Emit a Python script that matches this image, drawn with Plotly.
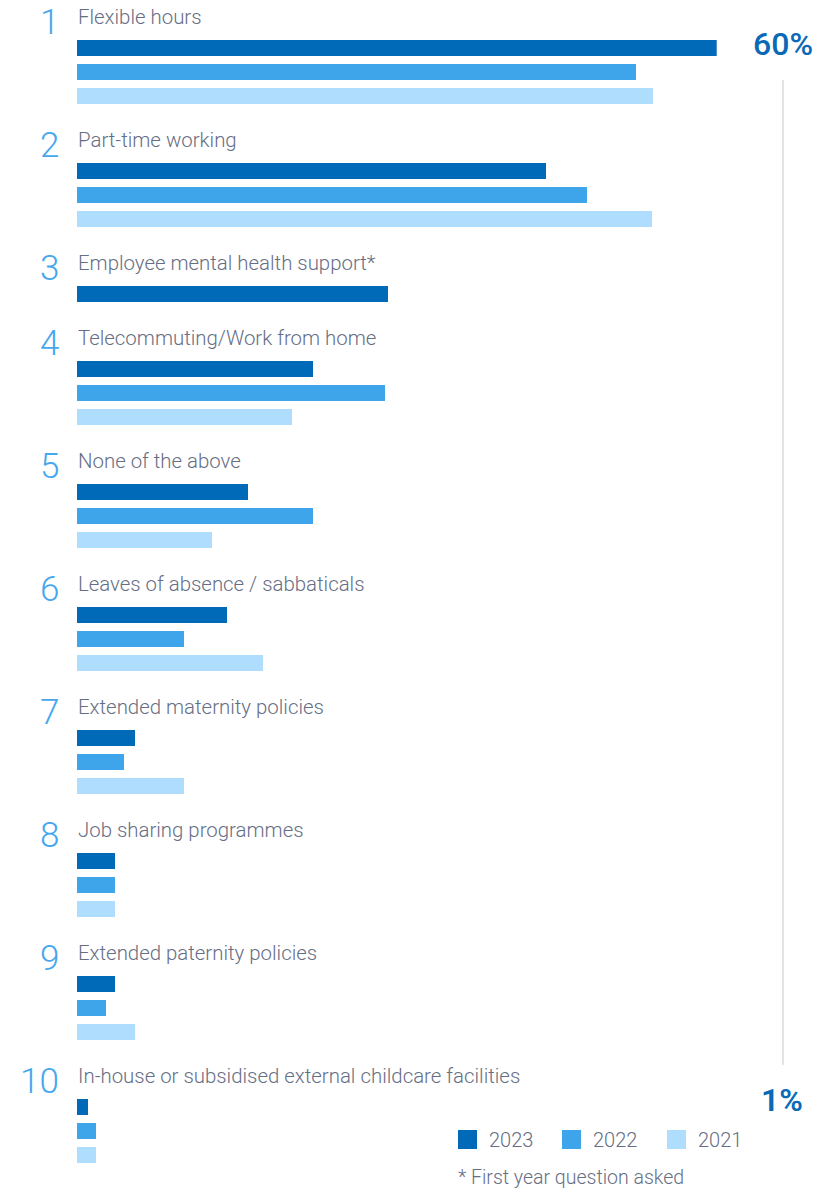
import plotly.graph_objects as go

# Workplace benefits offered, share of respondents (%) by survey year
categories = [
    "Flexible hours",
    "Part-time working",
    "Employee mental health support*",
    "Telecommuting/Work from home",
    "None of the above",
    "Leaves of absence / sabbaticals",
    "Extended maternity policies",
    "Job sharing programmes",
    "Extended paternity policies",
    "In-house or subsidised external childcare facilities",
]
years = ["2023", "2022", "2021"]
values_2023 = [60, 44, 29.2, 22.1, 16, 14.1, 5.4, 3.6, 3.6, 1]
values_2022 = [52.4, 47.8, None, 28.9, 22.1, 10, 4.4, 3.6, 2.7, 1.8]
values_2021 = [54, 53.9, None, 20.2, 12.7, 17.4, 10, 3.6, 5.4, 1.8]
footnote = "* First year question asked"

series = dict(zip(years, [values_2023, values_2022, values_2021]))
colors = {"2023": "#0069B8", "2022": "#3FA5EA", "2021": "#AEDDFD"}

W, H = 830, 1190
BAR_LEFT, BAR_RIGHT = 77, 716.7     # pixel extent of the value axis
TITLE_TO_BAR = 31                   # title centre -> first bar centre
BAR_STEP = 24
GROUP_GAP = 44                      # last bar centre -> next title centre
BAR_H = 16
FIRST_TITLE = 17

TEXT_GREY = "#666E84"
NUM_BLUE = "#45A7EE"
DARK_BLUE = "#0A69B6"
FONT = "Roboto"


def px(x):
    return x / W


# stack the groups vertically: title row, then one row per available year
title_y = []
bar_y = {y: [] for y in years}
cursor = FIRST_TITLE
for i, _ in enumerate(categories):
    title_y.append(cursor)
    row = cursor + TITLE_TO_BAR
    last = row
    for yr in years:
        if series[yr][i] is None:
            bar_y[yr].append(None)
            continue
        bar_y[yr].append(row)
        last = row
        row += BAR_STEP
    cursor = last + GROUP_GAP

fig = go.Figure()
for yr in years:
    ys = [p for p, v in zip(bar_y[yr], series[yr]) if v is not None]
    xs = [v for v in series[yr] if v is not None]
    fig.add_trace(go.Bar(
        x=xs, y=ys, orientation="h", width=BAR_H, name=yr,
        marker=dict(color=colors[yr], line=dict(width=0)),
        showlegend=False, hoverinfo="x",
    ))

all_vals = [v for s in series.values() for v in s if v is not None]
vmax, vmin = max(all_vals), min(all_vals)

annotations = []
for i, cat in enumerate(categories):
    annotations.append(dict(
        x=px(BAR_LEFT - 1.5), y=title_y[i], xref="paper", yref="y",
        text=cat, showarrow=False, xanchor="left", yanchor="middle",
        font=dict(family=FONT, size=20.4, color=TEXT_GREY, weight=300),
    ))
    annotations.append(dict(
        x=px(61), y=title_y[i] + 5.5, xref="paper", yref="y",
        text=str(i + 1), showarrow=False, xanchor="right", yanchor="middle",
        font=dict(family=FONT, size=35, color=NUM_BLUE, weight=300),
    ))

# extreme values called out on the right
annotations.append(dict(
    x=px(783), y=44, xref="paper", yref="y", text=f"{vmax:g}%",
    showarrow=False, xanchor="center", yanchor="middle",
    font=dict(family=FONT, size=32, color=DARK_BLUE, weight=500),
))
annotations.append(dict(
    x=px(782), y=1100, xref="paper", yref="y", text=f"{vmin:g}%",
    showarrow=False, xanchor="center", yanchor="middle",
    font=dict(family=FONT, size=32, color=DARK_BLUE, weight=600),
))

shapes = [dict(
    type="line", xref="paper", yref="y", x0=px(783), x1=px(783),
    y0=80, y1=1065, line=dict(color="#E4E4E4", width=2),
)]

# legend swatches
leg_x = [458, 562, 667]
for yr, lx in zip(years, leg_x):
    shapes.append(dict(
        type="rect", xref="paper", yref="y", x0=px(lx), x1=px(lx + 19),
        y0=1130, y1=1149, fillcolor=colors[yr], line=dict(width=0),
    ))
    annotations.append(dict(
        x=px(lx + 29), y=1140, xref="paper", yref="y", text=yr,
        showarrow=False, xanchor="left", yanchor="middle",
        font=dict(family=FONT, size=20, color=TEXT_GREY, weight=300),
    ))

annotations.append(dict(
    x=px(457), y=1177, xref="paper", yref="y", text=footnote,
    showarrow=False, xanchor="left", yanchor="middle", borderpad=0,
    font=dict(family=FONT, size=19.5, color=TEXT_GREY, weight=300),
))

fig.update_layout(
    width=W, height=H,
    margin=dict(l=0, r=0, t=0, b=0),
    paper_bgcolor="white", plot_bgcolor="white",
    xaxis=dict(domain=[px(BAR_LEFT), px(BAR_RIGHT)], range=[0, vmax],
               visible=False, fixedrange=True),
    yaxis=dict(range=[H, 0], visible=False, fixedrange=True),
    bargap=0,
    annotations=annotations,
    shapes=shapes,
    showlegend=False,
)

fig.write_html("out.html")
